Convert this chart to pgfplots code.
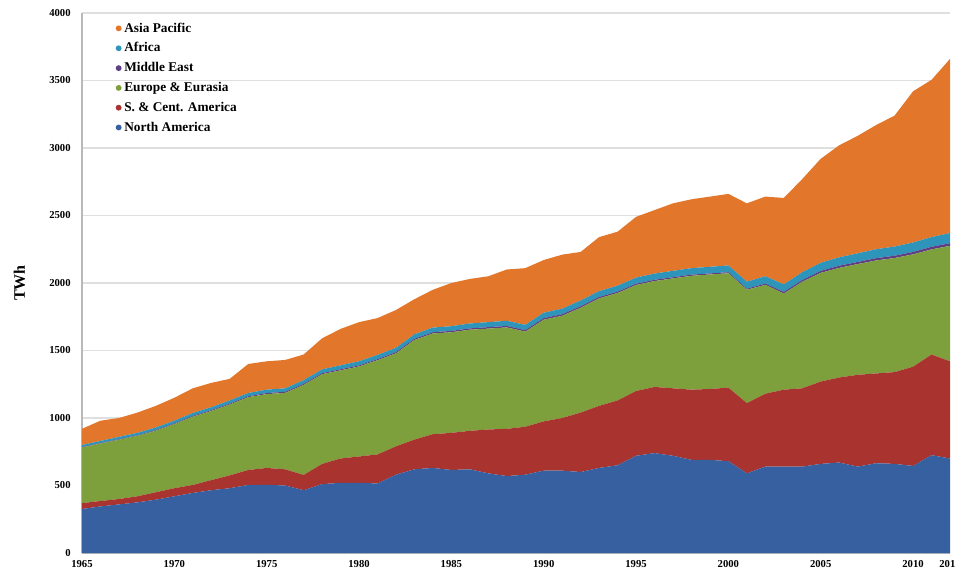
\documentclass[border=0pt]{standalone}
\usepackage{pgfplots}
\usepackage{pgfplotstable}
\pgfplotsset{compat=1.18}
\usepackage{fontspec}
\setmainfont{Liberation Serif}
\definecolor{cNA}{HTML}{3760A1}
\definecolor{cSCA}{HTML}{A8332F}
\definecolor{cEUR}{HTML}{7DA03C}
\definecolor{cME}{HTML}{5E3F86}
\definecolor{cAF}{HTML}{2E94B9}
\definecolor{cAP}{HTML}{E2762A}
\pgfplotstableread{
year NA SCA EUR ME AF AP
1965 326 44 412 3 15 120
1966 345 40 426 3 16 150
1967 360 40 439 4 17 140
1968 375 45 448 4 18 150
1969 395 55 456 5 19 160
1970 420 60 475 5 20 170
1971 445 59 506 6 21 183
1972 465 75 512 6 22 180
1973 480 95 525 7 23 160
1974 504 111 539 7 24 215
1975 505 125 547 8 25 210
1976 500 120 566 8 26 210
1977 465 113 667 8 27 190
1978 510 150 664 8 28 230
1979 520 180 653 8 29 270
1980 520 195 667 8 30 290
1981 515 215 698 8 31 273
1982 580 210 689 9 32 280
1983 620 220 738 9 33 260
1984 630 250 746 10 34 280
1985 615 275 745 10 35 320
1986 620 285 749 10 36 330
1987 590 325 747 11 37 340
1988 570 350 751 11 38 380
1989 580 355 705 11 39 420
1990 610 365 753 12 40 390
1991 610 390 757 12 41 400
1992 600 440 777 11 42 360
1993 630 460 796 11 43 400
1994 650 480 796 10 44 400
1995 720 480 785 10 45 450
1996 740 490 784 10 46 470
1997 720 500 814 9 47 500
1998 690 520 843 9 48 510
1999 690 525 848 8 49 520
2000 680 545 847 8 50 530
2001 590 520 840 8 52 580
2002 640 540 806 10 54 590
2003 640 570 712 12 56 640
2004 640 580 789 13 58 690
2005 660 610 805 15 60 770
2006 670 630 812 16 62 830
2007 640 680 820 16 64 870
2008 665 665 837 17 66 920
2009 660 680 845 17 68 970
2010 645 735 832 18 70 1120
2011 725 745 779 19 72 1165
2012 700 720 855 20 75 1290
}\datatable
\begin{document}
\begin{tikzpicture}
\path[use as bounding box] (-61.5pt,-16.5pt) rectangle (654.75pt,414.75pt);
\begin{axis}[
  scale only axis,
  width=651pt, height=405pt,
  xmin=1965, xmax=2012,
  ymin=0, ymax=4000,
  stack plots=y,
  axis lines*=left,
  axis line style={draw=gray!55, line width=1.2pt},
  ymajorgrids,
  grid style={gray!25, line width=0.9pt},
  tick style={draw=none},
  ytick={0,500,...,4000},
  xtick={1965,1970,1975,1980,1985,1990,1995,2000,2005,2010,2012},
  xticklabels={1965,1970,1975,1980,1985,1990,1995,2000,2005,2010,2012},
  /pgf/number format/assume math mode=true,
  /pgf/number format/1000 sep={},
  ticklabel style={font=\bfseries\fontsize{8}{9}\selectfont},
  yticklabel style={xshift=-5pt},
  xticklabel style={yshift=-2pt},
  ylabel={TWh},
  every axis y label/.style={at={(axis description cs:-0.072,0.5)}, rotate=90, anchor=center, font=\bfseries\fontsize{12}{14}\selectfont},
  reverse legend,
  legend cell align=left,
  legend style={at={(0.037,0.99)}, anchor=north west, draw=none, fill=none,
    font=\bfseries\fontsize{10}{12}\selectfont, row sep=2.4pt, inner sep=1pt},
  legend image code/.code={\path[#1,draw=none] (0pt,0pt) circle (2.2pt);},
  clip=false,
]
\addplot[fill=cNA, draw=none] table[x=year, y=NA] {\datatable} \closedcycle;
\addlegendentry{North America}
\addplot[fill=cSCA, draw=none] table[x=year, y=SCA] {\datatable} \closedcycle;
\addlegendentry{S. \& Cent. America}
\addplot[fill=cEUR, draw=none] table[x=year, y=EUR] {\datatable} \closedcycle;
\addlegendentry{Europe \& Eurasia}
\addplot[fill=cME, draw=none] table[x=year, y=ME] {\datatable} \closedcycle;
\addlegendentry{Middle East}
\addplot[fill=cAF, draw=none] table[x=year, y=AF] {\datatable} \closedcycle;
\addlegendentry{Africa}
\addplot[fill=cAP, draw=none] table[x=year, y=AP] {\datatable} \closedcycle;
\addlegendentry{Asia Pacific}
\end{axis}
\end{tikzpicture}
\end{document}
